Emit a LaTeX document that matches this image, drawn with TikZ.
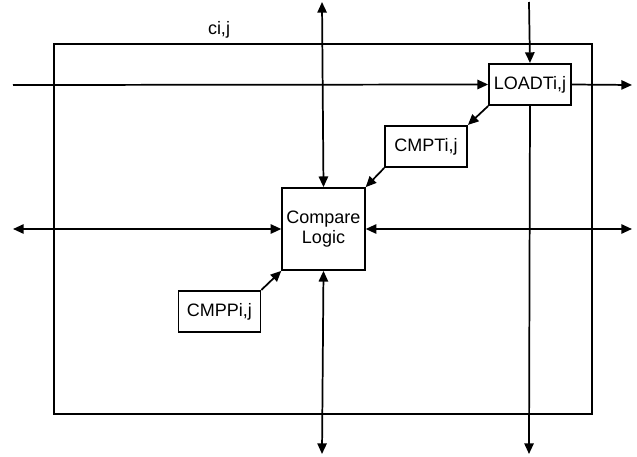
\documentclass[tikz,border=0pt]{standalone}
\usepackage{fontspec}
\setmainfont{Liberation Sans}
\usetikzlibrary{arrows.meta,positioning}

\begin{document}
\begin{tikzpicture}[
  x=0.75pt, y=-0.75pt,
  >={Triangle[length=8pt,width=7pt]},
  box/.style  = {draw, line width=1.3pt, inner sep=0pt, align=center,
                 font=\fontsize{13.5pt}{15pt}\selectfont},
  unit/.style = {box, minimum width=61.5pt, minimum height=31pt},
  logic/.style= {box, minimum width=62pt, minimum height=61.5pt},
  arr/.style  = {->, line width=1.3pt},
  barr/.style = {<->, line width=1.3pt},
]
\useasboundingbox (0,0) rectangle (637,457);
% cell frame
\draw[line width=1.3pt] (54,44) rectangle (592,414);
\node[font=\fontsize{13.5pt}{15pt}\selectfont] (lbl) at (219,30) {ci,j};

\node[unit]  (load) at (530,84.5)  {LOADTi,j};
\node[unit]  (cmpt) at (426,146.5) {CMPTi,j};
\node[logic] (cmp)  at (323.5,229) {Compare\\Logic};
\node[unit]  (cmpp) at (219.5,311.5) {CMPPi,j};

\coordinate (inL)   at (13,85);
\coordinate (outR)  at (632,85);
\coordinate (topR)  at (529,2);
\coordinate (botR)  at (529,454);
\coordinate (topC)  at (322,2);
\coordinate (botC)  at (322,454);
\coordinate (leftC) at (13,229);
\coordinate (rightC) at (632,229);

\draw[arr]  (inL) -- (load.west);
\draw[arr]  (load.east) -- (outR);
\draw[arr]  (topR) -- (load.north);
\draw[arr]  (load.south) -- (botR);
\draw[arr]  (load.south west) -- (cmpt.north east);
\draw[arr]  (cmpt.south west) -- (cmp.north east);
\draw[arr]  (cmpp.north east) -- (cmp.south west);
\draw[barr] (topC) -- (cmp.north);
\draw[barr] (cmp.south) -- (botC);
\draw[barr] (leftC) -- (cmp.west);
\draw[barr] (rightC) -- (cmp.east);
\end{tikzpicture}
\end{document}
